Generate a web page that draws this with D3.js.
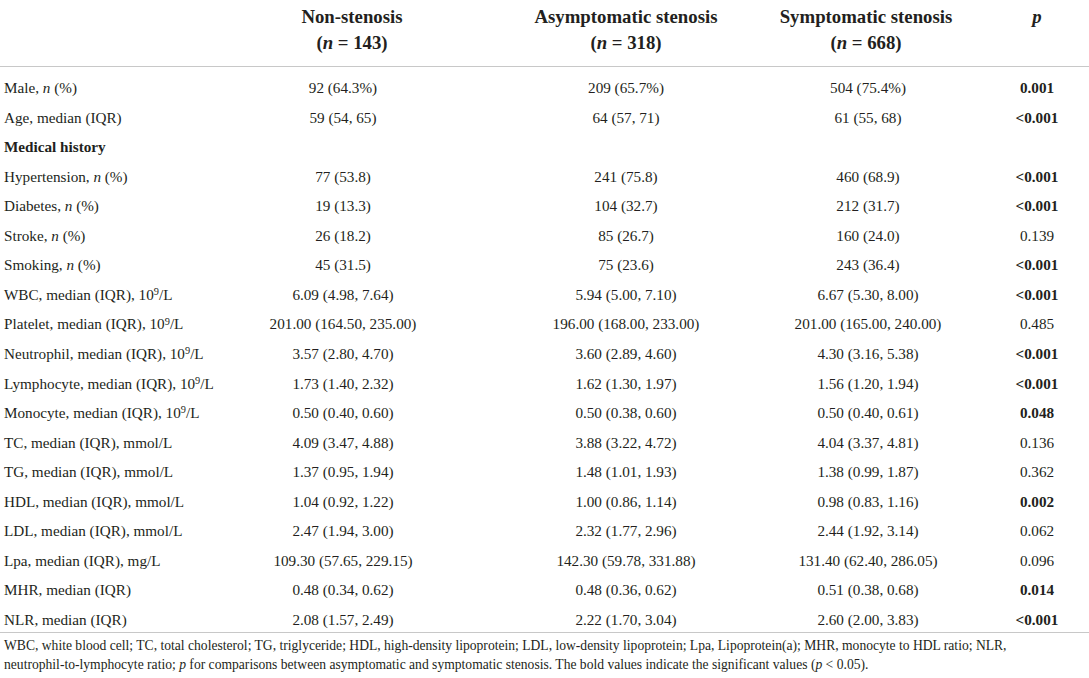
<!DOCTYPE html>
<html>
<head>
<meta charset="utf-8">
<script src="https://cdn.jsdelivr.net/npm/d3@7"></script>
<style>
  html, body { margin: 0; padding: 0; background: #fff; }
  svg { display: block; }
</style>
</head>
<body>
<svg id="chart" width="1089" height="678"></svg>
<script>
// ---- data ----
const groups = ["Non-stenosis", "Asymptomatic stenosis", "Symptomatic stenosis"];
const groupN = ["143", "318", "668"];
const rowLabels = [
  "Male, *n* (%)",
  "Age, median (IQR)",
  "Medical history",
  "Hypertension, *n* (%)",
  "Diabetes, *n* (%)",
  "Stroke, *n* (%)",
  "Smoking, *n* (%)",
  "WBC, median (IQR), 10^9^/L",
  "Platelet, median (IQR), 10^9^/L",
  "Neutrophil, median (IQR), 10^9^/L",
  "Lymphocyte, median (IQR), 10^9^/L",
  "Monocyte, median (IQR), 10^9^/L",
  "TC, median (IQR), mmol/L",
  "TG, median (IQR), mmol/L",
  "HDL, median (IQR), mmol/L",
  "LDL, median (IQR), mmol/L",
  "Lpa, median (IQR), mg/L",
  "MHR, median (IQR)",
  "NLR, median (IQR)"
];
const sectionRows = [2];
const nonStenosis = ["92 (64.3%)", "59 (54, 65)", "", "77 (53.8)", "19 (13.3)", "26 (18.2)", "45 (31.5)",
  "6.09 (4.98, 7.64)", "201.00 (164.50, 235.00)", "3.57 (2.80, 4.70)", "1.73 (1.40, 2.32)",
  "0.50 (0.40, 0.60)", "4.09 (3.47, 4.88)", "1.37 (0.95, 1.94)", "1.04 (0.92, 1.22)",
  "2.47 (1.94, 3.00)", "109.30 (57.65, 229.15)", "0.48 (0.34, 0.62)", "2.08 (1.57, 2.49)"];
const asymptomatic = ["209 (65.7%)", "64 (57, 71)", "", "241 (75.8)", "104 (32.7)", "85 (26.7)", "75 (23.6)",
  "5.94 (5.00, 7.10)", "196.00 (168.00, 233.00)", "3.60 (2.89, 4.60)", "1.62 (1.30, 1.97)",
  "0.50 (0.38, 0.60)", "3.88 (3.22, 4.72)", "1.48 (1.01, 1.93)", "1.00 (0.86, 1.14)",
  "2.32 (1.77, 2.96)", "142.30 (59.78, 331.88)", "0.48 (0.36, 0.62)", "2.22 (1.70, 3.04)"];
const symptomatic = ["504 (75.4%)", "61 (55, 68)", "", "460 (68.9)", "212 (31.7)", "160 (24.0)", "243 (36.4)",
  "6.67 (5.30, 8.00)", "201.00 (165.00, 240.00)", "4.30 (3.16, 5.38)", "1.56 (1.20, 1.94)",
  "0.50 (0.40, 0.61)", "4.04 (3.37, 4.81)", "1.38 (0.99, 1.87)", "0.98 (0.83, 1.16)",
  "2.44 (1.92, 3.14)", "131.40 (62.40, 286.05)", "0.51 (0.38, 0.68)", "2.60 (2.00, 3.83)"];
const pValues = ["0.001", "<0.001", "", "<0.001", "<0.001", "0.139", "<0.001", "<0.001", "0.485",
  "<0.001", "<0.001", "0.048", "0.136", "0.362", "0.002", "0.062", "0.096", "0.014", "<0.001"];
const pSignificant = [true, true, false, true, true, false, true, true, false,
  true, true, true, false, false, true, false, false, true, true];
const footnoteLines = [
  "WBC, white blood cell; TC, total cholesterol; TG, triglyceride; HDL, high-density lipoprotein; LDL, low-density lipoprotein; Lpa, Lipoprotein(a); MHR, monocyte to HDL ratio; NLR,",
  "neutrophil-to-lymphocyte ratio; *p* for comparisons between asymptomatic and symptomatic stenosis. The bold values indicate the significant values (*p* < 0.05)."
];

// ---- layout ----
const W = 1089, H = 678;
const FONT = "'Liberation Serif', 'Times New Roman', serif";
const TEXT = "#231f20";
const svg = d3.select("#chart");

const colKeys = ["c1", "c2", "c3", "p"];
const dataX = d3.scaleOrdinal().domain(colKeys).range([343, 626, 868, 1037]);
const headX = d3.scaleOrdinal().domain(colKeys).range([352, 626, 866, 1037]);
const rowY = d3.scalePoint().domain(d3.range(rowLabels.length)).range([93, 625]);

// rich text helper: *italic*, ^superscript^
function rich(sel, str) {
  const parts = str.split(/(\*[^*]+\*|\^[^^]+\^)/).filter(s => s.length);
  let supPending = false;
  parts.forEach(p => {
    if (p.startsWith("*")) {
      sel.append("tspan").attr("font-style", "italic").text(p.slice(1, -1));
    } else if (p.startsWith("^")) {
      sel.append("tspan").attr("font-size", "0.68em").attr("dy", "-0.45em").text(p.slice(1, -1));
      supPending = true;
    } else {
      const t = sel.append("tspan").text(p);
      if (supPending) { t.attr("dy", "0.306em"); supPending = false; }
    }
  });
}

// header
const hdr = svg.append("g").attr("font-family", FONT).attr("fill", TEXT)
  .attr("font-weight", "bold").attr("font-size", 18.8).attr("text-anchor", "middle");
groups.forEach((g, i) => {
  const k = colKeys[i];
  hdr.append("text").attr("x", headX(k)).attr("y", 23).text(g);
  const t = hdr.append("text").attr("x", headX(k)).attr("y", 49);
  t.append("tspan").text("(");
  t.append("tspan").attr("font-style", "italic").text("n");
  t.append("tspan").text(" = " + groupN[i] + ")");
});
hdr.append("text").attr("x", headX("p")).attr("y", 23).attr("font-style", "italic").text("p");

// rules
const rules = [66, 632];
svg.append("g").selectAll("line").data(rules).join("line")
  .attr("x1", 0).attr("x2", W).attr("y1", d => d + 0.5).attr("y2", d => d + 0.5)
  .attr("stroke", "#c8c8c8").attr("stroke-width", 1.2);

// body
const body = svg.append("g").attr("font-family", FONT).attr("fill", TEXT).attr("font-size", 15.2);
body.selectAll("text.label").data(rowLabels).join("text")
  .attr("class", "label")
  .attr("x", 4)
  .attr("y", (d, i) => rowY(i))
  .attr("font-weight", (d, i) => sectionRows.includes(i) ? "bold" : null)
  .each(function (d) { rich(d3.select(this), d); });

const cols = [nonStenosis, asymptomatic, symptomatic];
cols.forEach((arr, ci) => {
  body.append("g").selectAll("text").data(arr).join("text")
    .attr("x", dataX(colKeys[ci]))
    .attr("y", (d, i) => rowY(i))
    .attr("text-anchor", "middle")
    .text(d => d);
});
body.append("g").selectAll("text").data(pValues).join("text")
  .attr("x", dataX("p"))
  .attr("y", (d, i) => rowY(i))
  .attr("text-anchor", "middle")
  .attr("font-weight", (d, i) => pSignificant[i] ? "bold" : null)
  .text(d => d);

// footnote
const foot = svg.append("g").attr("font-family", FONT).attr("fill", TEXT).attr("font-size", 13.6);
footnoteLines.forEach((l, i) => {
  const t = foot.append("text").attr("x", 4).attr("y", 650 + i * 19);
  rich(t, l);
});
</script>
</body>
</html>
